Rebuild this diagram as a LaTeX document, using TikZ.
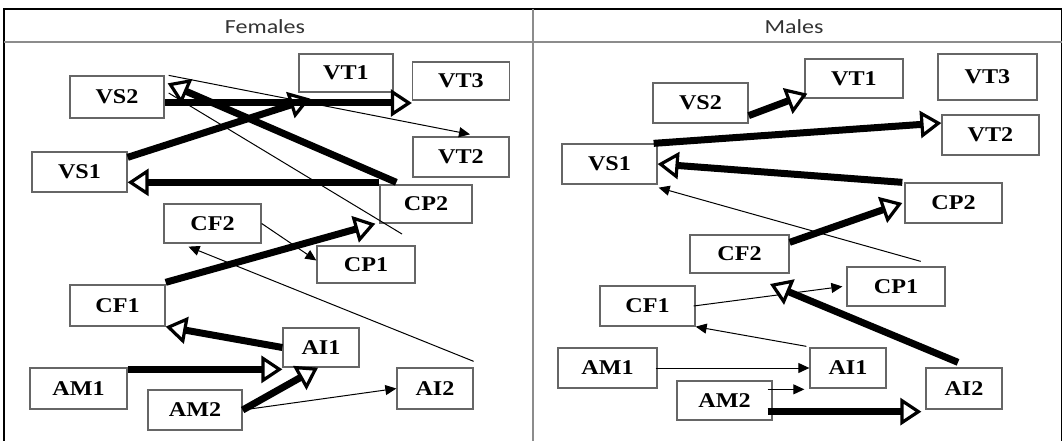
\documentclass[tikz,border=0pt]{standalone}
\usepackage{fontspec}
\setmainfont{Liberation Serif}
\newfontfamily\headfont{Carlito}
\usetikzlibrary{arrows.meta}

% wide-set labels
\newcommand\widetext[2]{\scalebox{#1}[1]{#2}}

\tikzset{
  box/.style={draw=black!60, line width=1.3pt, fill=white, inner sep=0pt,
    font=\bfseries\fontsize{21}{23}\selectfont},
  head/.style={text=black!80, inner sep=0pt, font=\headfont\fontsize{20}{23}\selectfont},
  heavy/.style={line width=7pt,
    -{Triangle[length=21pt,width=27pt,fill=white,line width=3.2pt]}},
  light/.style={line width=1pt, -{Triangle[length=11pt,width=10pt]}},
  plain/.style={line width=1pt},
  frame/.style={line width=1.6pt},
  rule/.style={draw=black!45, line width=1.3pt},
}

\begin{document}
\begin{tikzpicture}[x=1pt,y=-1pt]
\useasboundingbox (0,0) rectangle (1063,441);

% table frame
\draw[frame] (4,441) -- (4,9) -- (1061.5,9) -- (1061.5,441);
\draw[rule] (4,42) -- (1061.5,42);
\draw[rule] (533,9) -- (533,441);

\node[head] (fHead) at (265,27) {\widetext{1.2}{Females}};
\node[head] (mHead) at (794,27) {\widetext{1.2}{Males}};

% ---------- left panel ----------
\node[box, minimum width=94pt, minimum height=42pt] (fVS2) at (117,97)   {\widetext{1.15}{VS2}};
\node[box, minimum width=94pt, minimum height=38pt] (fVT1) at (346,73)   {\widetext{1.15}{VT1}};
\node[box, minimum width=97pt, minimum height=38pt] (fVT3) at (461,81)   {\widetext{1.15}{VT3}};
\node[box, minimum width=96pt, minimum height=40pt] (fVT2) at (461,157)  {\widetext{1.15}{VT2}};
\node[box, minimum width=95pt, minimum height=40pt] (fVS1) at (79.5,172) {\widetext{1.15}{VS1}};
\node[box, minimum width=92pt, minimum height=38pt] (fCP2) at (426,204)  {\widetext{1.15}{CP2}};
\node[box, minimum width=97pt, minimum height=39pt] (fCF2) at (212.5,223.5) {\widetext{1.15}{CF2}};
\node[box, minimum width=98pt, minimum height=37pt] (fCP1) at (366,264.5) {\widetext{1.15}{CP1}};
\node[box, minimum width=95pt, minimum height=41pt] (fCF1) at (117.5,305.5) {\widetext{1.15}{CF1}};
\node[box, minimum width=76pt, minimum height=39pt] (fAI1) at (321,347.5) {\widetext{1.15}{AI1}};
\node[box, minimum width=97pt, minimum height=41pt] (fAM1) at (78.5,388.5) {\widetext{1.15}{AM1}};
\node[box, minimum width=94pt, minimum height=40pt] (fAM2) at (195,410)  {\widetext{1.15}{AM2}};
\node[box, minimum width=76pt, minimum height=41pt] (fAI2) at (435,388.5) {\widetext{1.15}{AI2}};
\coordinate (fLoose) at (402,234);

\draw[heavy] ([yshift=-6pt]fVS1.north east) -- ([xshift=12pt,yshift=-6pt]fVT1.south west);
\draw[heavy] ([yshift=-6pt]fVS2.east) -- ([yshift=-6pt]fVS2.east -| fVT3.west);
\draw[heavy] ([xshift=17pt,yshift=2pt]fCP2.north west) -- ([xshift=3pt,yshift=-8pt]fVS2.north east);
\draw[heavy] ([yshift=2pt]fCP2.north west) -- ([yshift=2pt]fCP2.north west -| fVS1.east);
\draw[light] ([xshift=4pt]fVS2.north east) -- ([xshift=9pt,yshift=2pt]fVT2.north);
\draw[plain] ([xshift=4pt,yshift=4pt]fVS2.east) -- (fLoose);
\draw[light] (fCF2.east) -- ([yshift=4pt]fCP1.west);
\draw[light] ([yshift=6pt]fAI2.north east) -- ([xshift=-24pt,yshift=-3pt]fCF2.south);
\draw[heavy] ([yshift=2pt]fCF1.north east) -- ([xshift=-4pt]fCP2.south west);
\draw[heavy] (fAI1.west) -- (fCF1.south east);
\draw[heavy] ([yshift=-2pt]fAM1.north east) -- ([yshift=-2pt]fAM1.north east -| fAI1.west);
\draw[heavy] (fAM2.east) -- ([xshift=-3pt]fAI1.south);
\draw[light] (fAM2.east) -- (fAI2.west);

% ---------- right panel ----------
\node[box, minimum width=98pt, minimum height=39pt] (mVT1) at (854,78.5)  {\widetext{1.15}{VT1}};
\node[box, minimum width=99pt, minimum height=46pt] (mVT3) at (987.5,77)  {\widetext{1.15}{VT3}};
\node[box, minimum width=95pt, minimum height=40pt] (mVS2) at (700.5,103) {\widetext{1.15}{VS2}};
\node[box, minimum width=97pt, minimum height=40pt] (mVT2) at (990.5,135) {\widetext{1.15}{VT2}};
\node[box, minimum width=95pt, minimum height=40pt] (mVS1) at (609.5,164) {\widetext{1.15}{VS1}};
\node[box, minimum width=97pt, minimum height=40pt] (mCP2) at (953.5,203) {\widetext{1.15}{CP2}};
\node[box, minimum width=99pt, minimum height=38pt] (mCF2) at (739.5,254) {\widetext{1.15}{CF2}};
\node[box, minimum width=98pt, minimum height=39pt] (mCP1) at (896,286.5) {\widetext{1.15}{CP1}};
\node[box, minimum width=95pt, minimum height=40pt] (mCF1) at (647.5,306) {\widetext{1.15}{CF1}};
\node[box, minimum width=99pt, minimum height=40pt] (mAM1) at (607.5,368) {\widetext{1.15}{AM1}};
\node[box, minimum width=76pt, minimum height=40pt] (mAI1) at (848,368)   {\widetext{1.15}{AI1}};
\node[box, minimum width=95pt, minimum height=39pt] (mAM2) at (724.5,400.5) {\widetext{1.15}{AM2}};
\node[box, minimum width=76pt, minimum height=41pt] (mAI2) at (964,388.5) {\widetext{1.15}{AI2}};
\coordinate (mTip) at (770,284);

\draw[heavy] ([yshift=8pt]mVS2.south east) -- ([xshift=3pt,yshift=5pt]mVT1.south west);
\draw[heavy] ([xshift=-4pt]mVS1.north east) -- ([yshift=12pt]mVT2.west);
\draw[heavy] ([xshift=-2pt]mCP2.north west) -- (mVS1.east);
\draw[light] ([xshift=-25pt,yshift=5pt]mCP1.north east) -- ([xshift=1pt,yshift=-3pt]mVS1.south east);
\draw[heavy] ([yshift=-8pt]mCF2.north east) -- ([xshift=-2pt]mCP2.west);
\draw[light] ([xshift=-2pt]mCF1.east) -- ([xshift=-4pt]mCP1.west);
\draw[heavy] ([xshift=-6pt,yshift=5pt]mAI2.north) -- (mTip);
\draw[light] ([xshift=-3pt,yshift=1pt]mAI1.north west) -- (mCF1.south east);
\draw[light] ([xshift=-2pt]mAM1.east) -- (mAI1.west);
\draw[light] ([xshift=-5pt,yshift=-9pt]mAM2.north east) -- ([xshift=-5pt,yshift=-9pt]mAM2.north east -| mAI1.west);
\draw[heavy] ([xshift=-5pt,yshift=9pt]mAM2.south east) -- ([xshift=-4pt,yshift=9pt]mAM2.south east -| mAI2.west);
\end{tikzpicture}
\end{document}
